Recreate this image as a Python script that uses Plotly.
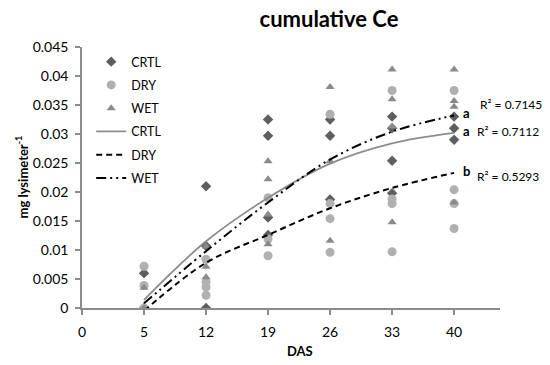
import plotly.graph_objects as go

# ---- data ----
das_labels = ["0", "5", "12", "19", "26", "33", "40"]
trend_das = ["5", "12", "19", "26", "33", "40"]

crtl_das = ["5", "5", "12", "12", "12", "19", "19", "19", "19", "26", "26", "26",
            "33", "33", "33", "33", "40", "40", "40"]
crtl_val = [0.0060, 0.0, 0.0210, 0.0107, 0.0, 0.0325, 0.0297, 0.0156, 0.0126,
            0.0325, 0.0297, 0.0187, 0.0330, 0.0310, 0.0254, 0.0198, 0.0330, 0.0310, 0.0290]

dry_das = ["5", "5", "5", "12", "12", "12", "12", "19", "19", "19", "26", "26", "26", "26",
           "33", "33", "33", "33", "40", "40", "40", "40"]
dry_val = [0.0072, 0.0039, 0.0, 0.0084, 0.0045, 0.0036, 0.0022, 0.0190, 0.0119, 0.0090,
           0.0334, 0.0180, 0.0154, 0.0096, 0.0375, 0.0188, 0.0180, 0.0097,
           0.0375, 0.0204, 0.0180, 0.0137]

wet_das = ["5", "5", "12", "12", "12", "19", "19", "19", "19", "26", "26", "26",
           "33", "33", "33", "33", "40", "40", "40", "40"]
wet_val = [0.0035, 0.0, 0.0106, 0.0071, 0.0053, 0.0253, 0.0222, 0.0161, 0.0110,
           0.0381, 0.0253, 0.0116, 0.0411, 0.0360, 0.0313, 0.0148,
           0.0411, 0.0357, 0.0347, 0.0182]

crtl_trend = [0.0014, 0.0115, 0.0190, 0.0249, 0.0284, 0.0302]
dry_trend = [-0.0005, 0.0078, 0.0126, 0.0172, 0.0207, 0.0233]
wet_trend = [0.0008, 0.0098, 0.0182, 0.0256, 0.0304, 0.0332]

r2_labels = ["R² = 0.7145", "R² = 0.7112", "R² = 0.5293"]
sig_letters = ["a", "a", "b"]

FONT = "Lato"
pos = {lab: i for i, lab in enumerate(das_labels)}
def px(labels):
    return [pos[l] for l in labels]

fig = go.Figure()
fig.add_trace(go.Scatter(x=px(crtl_das), y=crtl_val, mode="markers", name="CRTL",
                         legendgroup="g1",
                         marker=dict(symbol="diamond", size=8, color="#5e5e5e")))
fig.add_trace(go.Scatter(x=px(dry_das), y=dry_val, mode="markers", name="DRY",
                         legendgroup="g2",
                         marker=dict(symbol="circle", size=9, color="#b0b0b0")))
fig.add_trace(go.Scatter(x=px(wet_das), y=wet_val, mode="markers", name="WET",
                         legendgroup="g3",
                         marker=dict(symbol="triangle-up", size=8, color="#8a8a8a")))
fig.add_trace(go.Scatter(x=px(trend_das), y=crtl_trend, mode="lines", name="CRTL",
                         legendgroup="g4", line_shape="spline",
                         line=dict(color="#8c8c8c", width=1.8)))
fig.add_trace(go.Scatter(x=px(trend_das), y=dry_trend, mode="lines", name="DRY",
                         legendgroup="g5", line_shape="spline",
                         line=dict(color="#000000", width=2, dash="6px,4px")))
fig.add_trace(go.Scatter(x=px(trend_das), y=wet_trend, mode="lines", name="WET",
                         legendgroup="g6", line_shape="spline",
                         line=dict(color="#000000", width=2, dash="10px,4px,2px,4px,2px,4px")))

annos = []
end_x = pos[trend_das[-1]]
for val, letter in zip([wet_trend[-1], crtl_trend[-1], dry_trend[-1]], sig_letters):
    annos.append(dict(x=end_x, y=val, xref="x", yref="y", text="<b>" + letter + "</b>",
                      showarrow=False, xanchor="left", xshift=7, yshift=2,
                      font=dict(family=FONT, size=13, color="#000000")))
annos.append(dict(x=end_x, y=wet_trend[-1], xref="x", yref="y", text=r2_labels[0],
                  showarrow=False, xanchor="left", xshift=24, yshift=11,
                  font=dict(family=FONT, size=12, color="#000000")))
annos.append(dict(x=end_x, y=crtl_trend[-1], xref="x", yref="y", text=r2_labels[1],
                  showarrow=False, xanchor="left", xshift=21, yshift=1,
                  font=dict(family=FONT, size=12, color="#000000")))
annos.append(dict(x=end_x, y=dry_trend[-1], xref="x", yref="y", text=r2_labels[2],
                  showarrow=False, xanchor="left", xshift=21, yshift=-4,
                  font=dict(family=FONT, size=12, color="#000000")))
annos.append(dict(x=(300 - 82) / 418, y=(308 - 351) / 261, xref="paper", yref="paper",
                  text="<b>DAS</b>", showarrow=False, yanchor="middle",
                  font=dict(family=FONT, size=13, color="#000000")))
annos.append(dict(x=-60 / 418, y=0.50, xref="paper", yref="paper",
                  text="<b>mg lysimeter<sup>-1</sup></b>", showarrow=False,
                  textangle=-90, xanchor="center", yanchor="middle",
                  font=dict(family=FONT, size=13, color="#000000")))

fig.update_layout(
    width=550, height=365,
    margin=dict(l=82, r=50, t=47, b=57),
    paper_bgcolor="white", plot_bgcolor="white",
    font=dict(family=FONT, size=13, color="#000000"),
    title=dict(text="<b>cumulative Ce</b>", x=329 / 550, xanchor="center",
               xref="container", y=1 - 19 / 365, yanchor="middle", yref="container",
               font=dict(family=FONT, size=22, color="#000000")),
    showlegend=True,
    legend=dict(x=0.022, y=1.0, xanchor="left", yanchor="top",
                bgcolor="rgba(0,0,0,0)", font=dict(family=FONT, size=12.5),
                tracegroupgap=4, itemwidth=30),
    annotations=annos,
)
fig.update_xaxes(range=[0, 6.74], tickmode="array", tickvals=list(range(len(das_labels))),
                 ticktext=das_labels, showgrid=False, zeroline=False,
                 showline=True, linecolor="#8c8c8c", linewidth=1.5,
                 ticks="outside", ticklen=5, tickcolor="#8c8c8c", tickwidth=1.5,
                 ticklabelstandoff=5,
                 tickfont=dict(family=FONT, size=14))
fig.update_yaxes(range=[0, 0.045], tickmode="array",
                 tickvals=[0, 0.005, 0.01, 0.015, 0.02, 0.025, 0.03, 0.035, 0.04, 0.045],
                 ticktext=["0", "0.005", "0.01", "0.015", "0.02", "0.025", "0.03",
                           "0.035", "0.04", "0.045"],
                 showgrid=False, zeroline=False,
                 showline=True, linecolor="#8c8c8c", linewidth=1.5,
                 ticks="outside", ticklen=5, tickcolor="#8c8c8c", tickwidth=1.5,
                 ticklabelstandoff=4,
                 tickfont=dict(family=FONT, size=14))

fig.write_html("out.html", config={"displayModeBar": False},
               post_script="document.body.style.margin='0';")
